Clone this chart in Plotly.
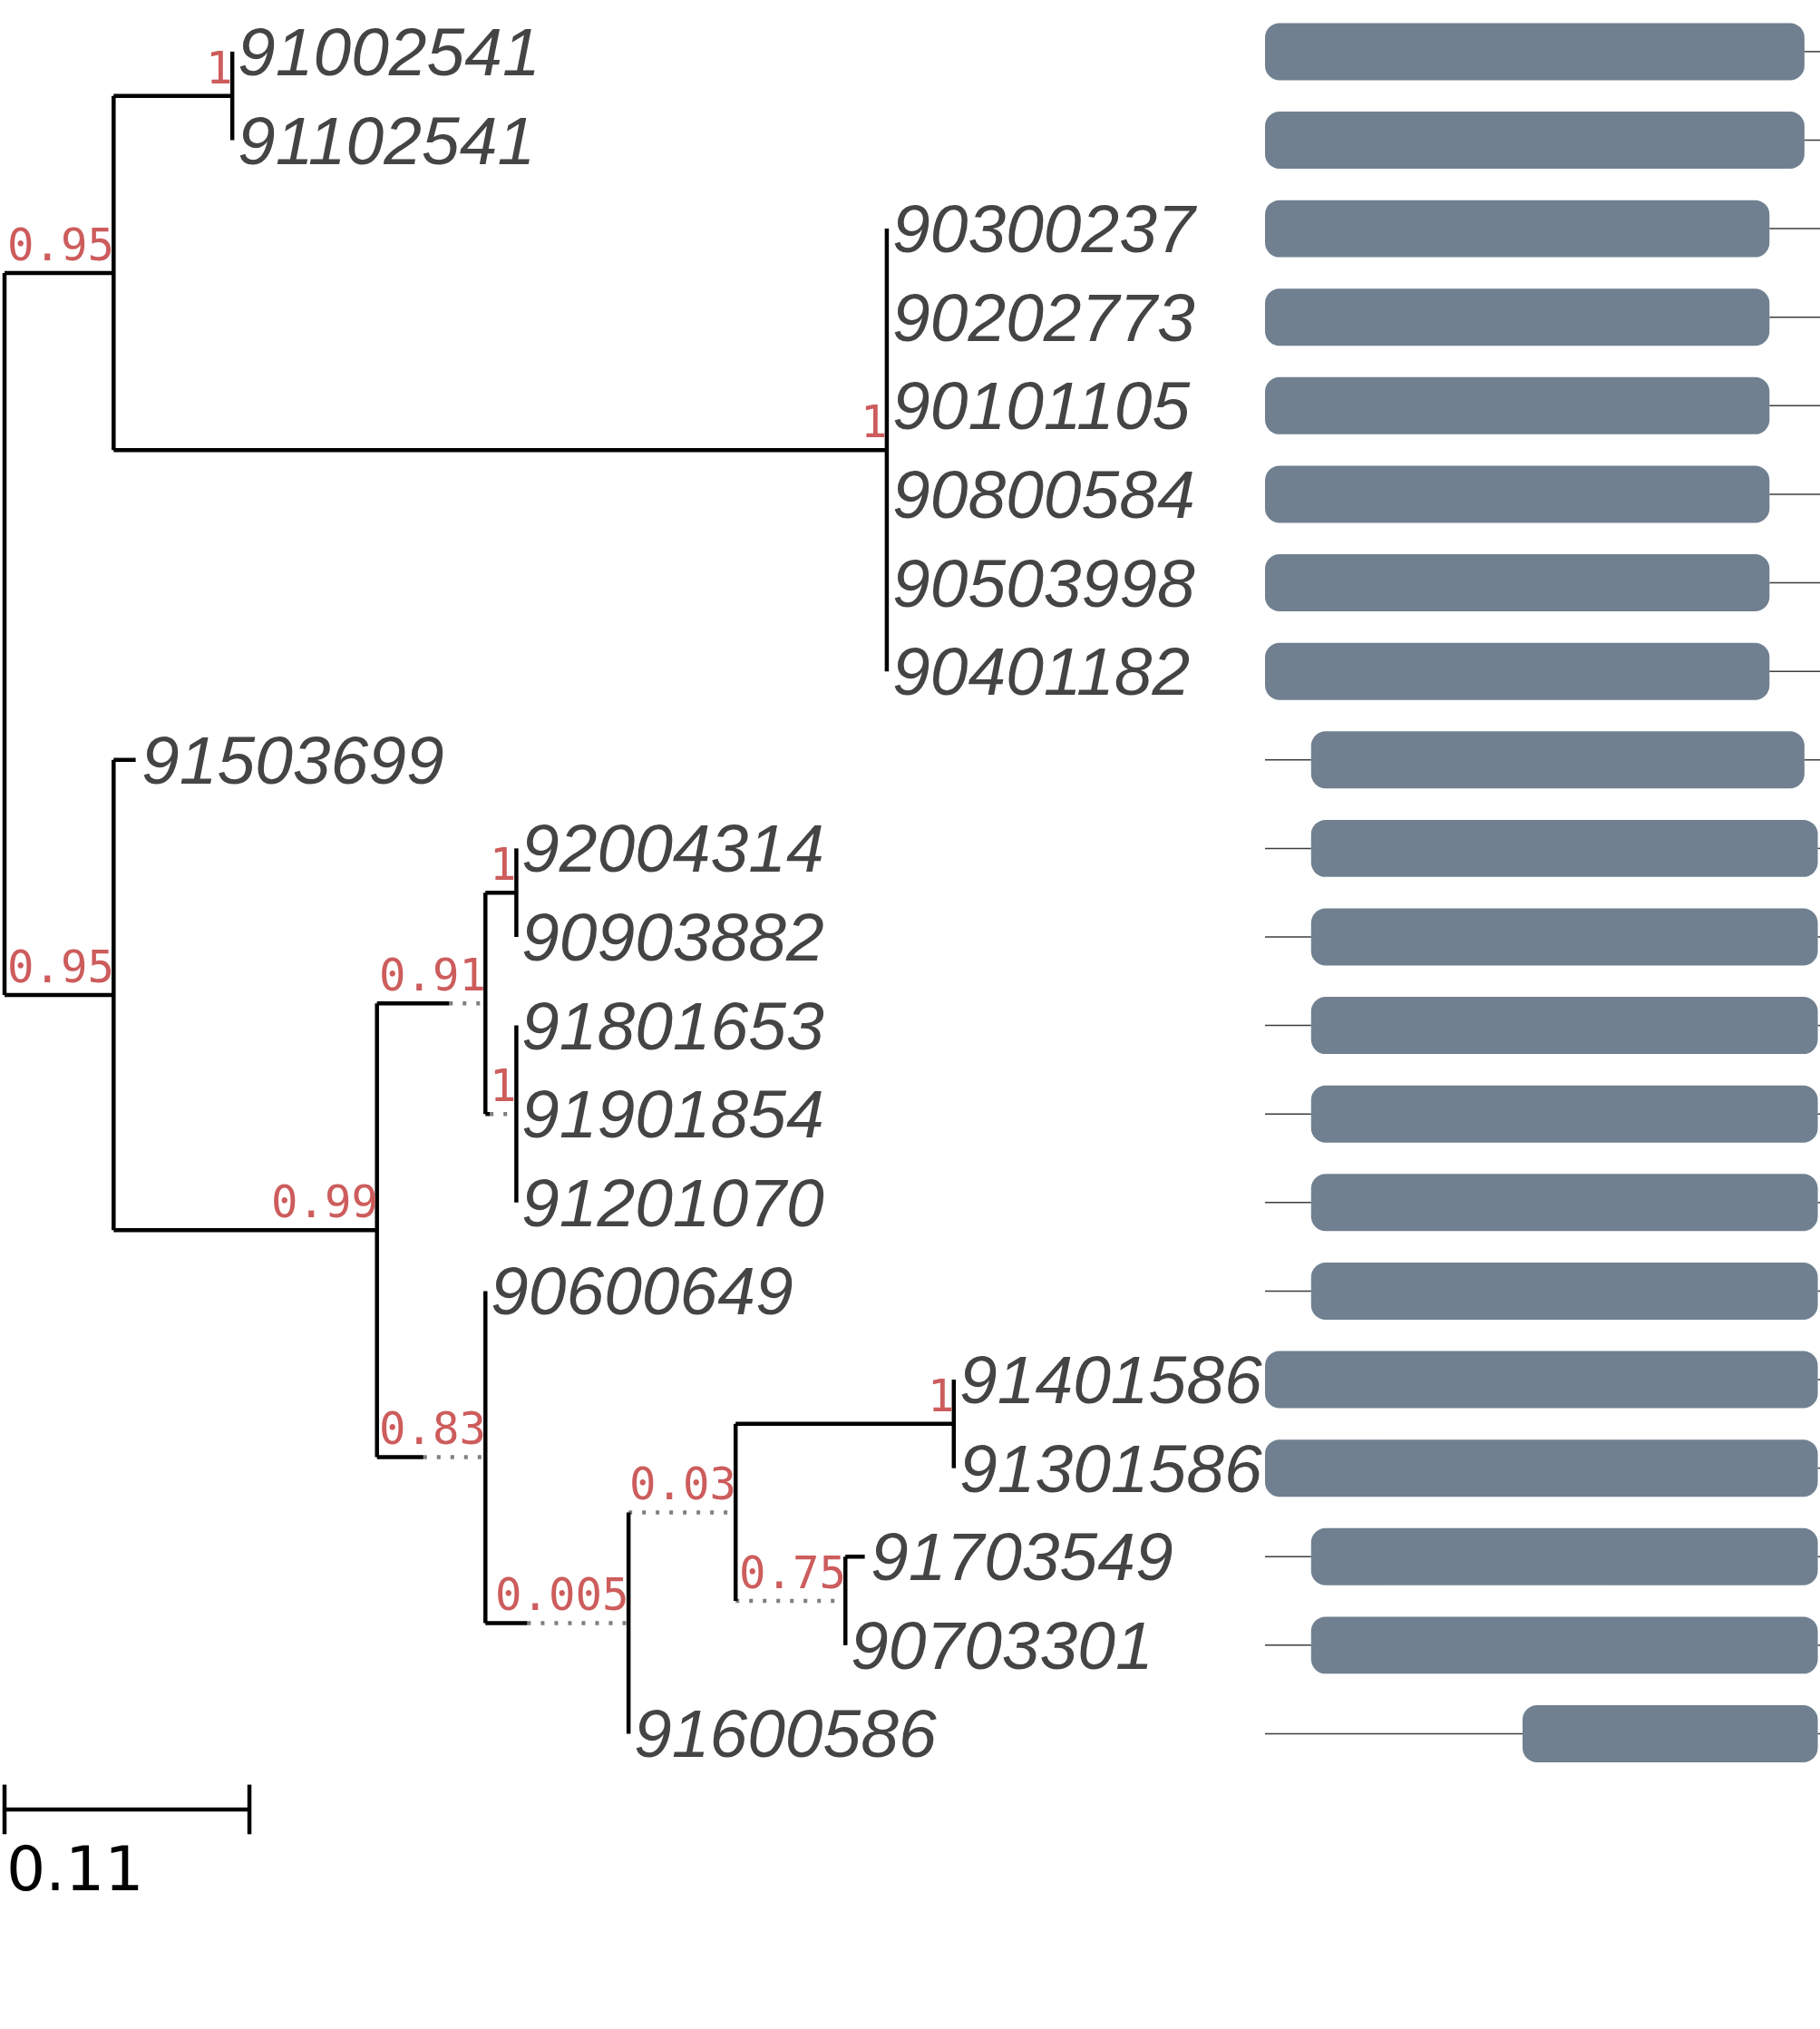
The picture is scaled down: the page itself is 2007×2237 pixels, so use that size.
import plotly.graph_objects as go

# leaf names, top to bottom
leaf_names = [
    "91002541", "91102541", "90300237", "90202773", "90101105", "90800584",
    "90503998", "90401182", "91503699", "92004314", "90903882", "91801653",
    "91901854", "91201070", "90600649", "91401586", "91301586", "91703549",
    "90703301", "91600586",
]

# tree: node, parent, branch length, dotted extension (room for support label), support
tree_nodes = ["root", "n1", "n2", "91002541", "91102541", "n3",
              "90300237", "90202773", "90101105", "90800584", "90503998", "90401182",
              "n4", "91503699", "n5", "n6", "n7", "92004314", "90903882",
              "n8", "91801653", "91901854", "91201070",
              "n9", "90600649", "n10", "n11", "n12", "91401586", "91301586",
              "n13", "91703549", "90703301", "91600586"]
tree_parent = [None, "root", "n1", "n2", "n2", "n1",
               "n3", "n3", "n3", "n3", "n3", "n3",
               "root", "n4", "n4", "n5", "n6", "n7", "n7",
               "n6", "n8", "n8", "n8",
               "n5", "n9", "n9", "n10", "n11", "n12", "n12",
               "n11", "n13", "n13", "n10"]
branch_len = [0, 0.049, 0.0533, 0, 0, 0.3473,
              0, 0, 0, 0, 0, 0,
              0.049, 0.0099, 0.1183, 0.0324, 0.0139, 0, 0,
              0.002, 0, 0, 0,
              0.0208, 0, 0.0188, 0, 0.098, 0, 0,
              0, 0.0087, 0, 0]
extra_len = [0, 0, 0, 0, 0, 0,
             0, 0, 0, 0, 0, 0,
             0, 0, 0, 0.0163, 0, 0, 0,
             0.0119, 0, 0, 0,
             0.0279, 0, 0.0455, 0.0481, 0, 0, 0,
             0.0493, 0, 0, 0]
support = [None, "0.95", "1", None, None, "1",
           None, None, None, None, None, None,
           "0.95", None, "0.99", "0.91", "1", None, None,
           "1", None, None, None,
           "0.83", None, "0.005", "0.03", "1", None, None,
           "0.75", None, None, None]

scale_value = 0.11

# alignment coverage per leaf (same order as leaf_names)
aln_length = 1000
aln_start = [0, 0, 0, 0, 0, 0, 0, 0, 83, 83, 83, 83, 83, 83, 83, 0, 0, 83, 83, 464]
aln_end = [972, 972, 909, 909, 909, 909, 909, 909, 972, 996, 996, 996, 996, 996,
           996, 996, 996, 996, 996, 996]

# ---- layout of the tree ----
children = {n: [] for n in tree_nodes}
for n, p in zip(tree_nodes, tree_parent):
    if p is not None:
        children[p].append(n)
idx = {n: i for i, n in enumerate(tree_nodes)}

xpos, solid_end = {}, {}
for n, p in zip(tree_nodes, tree_parent):
    i = idx[n]
    px = 0 if p is None else xpos[p]
    solid_end[n] = px + branch_len[i]
    xpos[n] = solid_end[n] + extra_len[i]

ypos = {}
def place(n):
    if not children[n]:
        ypos[n] = leaf_names.index(n)
    else:
        for c in children[n]:
            place(c)
        ypos[n] = (ypos[children[n][0]] + ypos[children[n][-1]]) / 2
place("root")

solid_x, solid_y, dot_x, dot_y = [], [], [], []
for n, p in zip(tree_nodes, tree_parent):
    if p is None:
        continue
    if solid_end[n] > xpos[p]:
        solid_x += [xpos[p], solid_end[n], None]
        solid_y += [ypos[n], ypos[n], None]
    if xpos[n] > solid_end[n]:
        dot_x += [solid_end[n], xpos[n], None]
        dot_y += [ypos[n], ypos[n], None]
for n in tree_nodes:
    if children[n]:
        solid_x += [xpos[n], xpos[n], None]
        solid_y += [ypos[children[n][0]], ypos[children[n][-1]], None]

fig = go.Figure()

fig.add_trace(go.Scatter(x=dot_x, y=dot_y, mode="lines",
                         line=dict(color="#7f7f7f", width=4.5, dash="4px,11px"),
                         hoverinfo="skip"))
fig.add_trace(go.Scatter(x=solid_x, y=solid_y, mode="lines",
                         line=dict(color="black", width=4.5), hoverinfo="skip"))

# scale bar
sb_y = 19.855
fig.add_trace(go.Scatter(
    x=[0, scale_value, None, 0, 0, None, scale_value, scale_value],
    y=[sb_y, sb_y, None, sb_y - 0.28, sb_y + 0.28, None, sb_y - 0.28, sb_y + 0.28],
    mode="lines", line=dict(color="black", width=4.5), hoverinfo="skip"))

# alignment backbone (gaps only) + coverage bars
bb_x, bb_y = [], []
for r, (s, e) in enumerate(zip(aln_start, aln_end)):
    if s > 0:
        bb_x += [0, s, None]
        bb_y += [r, r, None]
    if e < aln_length:
        bb_x += [e, aln_length, None]
        bb_y += [r, r, None]
fig.add_trace(go.Scatter(x=bb_x, y=bb_y, mode="lines", xaxis="x2", yaxis="y",
                         line=dict(color="#3c3c3c", width=1.5), hoverinfo="skip"))
fig.add_trace(go.Bar(
    y=list(range(len(leaf_names))),
    x=[e - s for s, e in zip(aln_start, aln_end)],
    base=aln_start, orientation="h", width=0.645,
    marker=dict(color="#708090", cornerradius=16, line=dict(width=0)),
    xaxis="x2", yaxis="y", hoverinfo="skip"))

annotations = []
for n in leaf_names:
    annotations.append(dict(
        x=xpos[n], y=ypos[n], xref="x", yref="y", text=n, showarrow=False,
        xanchor="left", yanchor="middle", xshift=4,
        font=dict(family="Liberation Sans", size=75, color="#444444", style="italic")))
for n, s in zip(tree_nodes, support):
    if s is None:
        continue
    annotations.append(dict(
        x=xpos[n], y=ypos[n], xref="x", yref="y", text=s, showarrow=False,
        xanchor="right", yanchor="bottom", xshift=3,
        font=dict(family="DejaVu Sans Mono", size=49, color="#cd5c5c")))
annotations.append(dict(
    x=0, y=20.53, xref="x", yref="y", text=str(scale_value), showarrow=False,
    xanchor="left", yanchor="middle",
    font=dict(family="DejaVu Sans", size=68, color="black")))

fig.update_layout(
    width=2007, height=2237,
    margin=dict(l=0, r=0, t=0, b=0),
    paper_bgcolor="white", plot_bgcolor="white",
    showlegend=False,
    annotations=annotations,
    xaxis=dict(domain=[0, 1], range=[-5 / 2455, 2002 / 2455], visible=False),
    xaxis2=dict(domain=[1395 / 2007, 1], range=[0, aln_length], visible=False,
                anchor="y"),
    yaxis=dict(range=[22.335, -0.583], visible=False),
)

fig.write_html("out.html", config={"displayModeBar": False},
               post_script="document.body.style.margin = '0px';")
